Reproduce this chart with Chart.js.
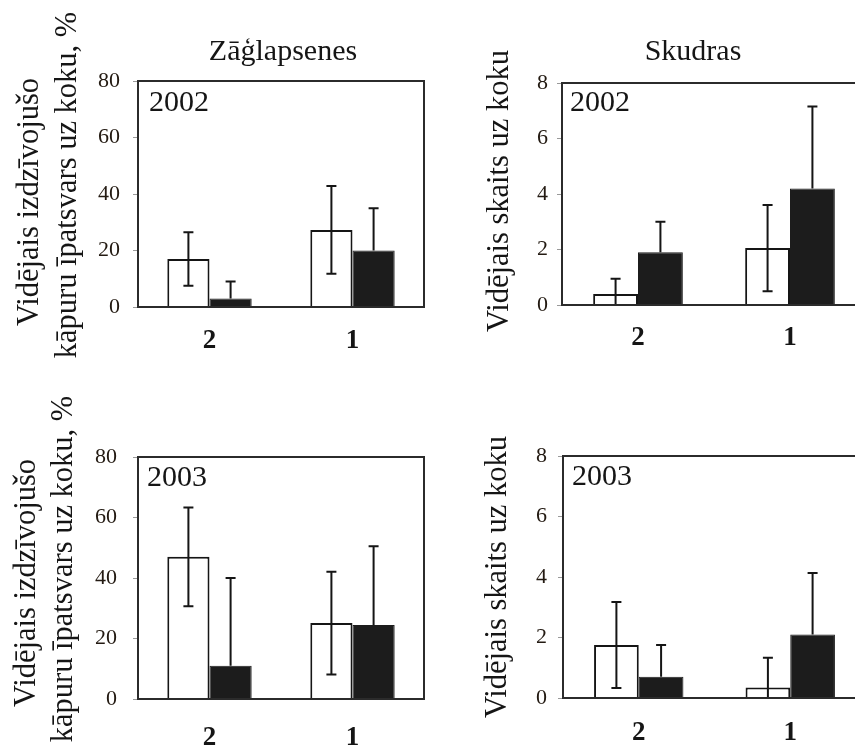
<!DOCTYPE html>
<html>
<head>
<meta charset="utf-8">
<script src="https://cdn.jsdelivr.net/npm/chart.js@4/dist/chart.umd.min.js"></script>
<style>
  html, body { margin: 0; padding: 0; background: #fff; overflow: hidden; width: 855px; height: 746px; }
  .panel { position: absolute; }
</style>
</head>
<body>
<div class="panel" style="left:0;top:0"><canvas id="p1" width="430" height="375"></canvas></div>
<div class="panel" style="left:430px;top:0"><canvas id="p2" width="450" height="375"></canvas></div>
<div class="panel" style="left:0;top:380px"><canvas id="p3" width="430" height="366"></canvas></div>
<div class="panel" style="left:430px;top:380px"><canvas id="p4" width="450" height="366"></canvas></div>
<script>
// Site categories on the x axis
const categories = ['2', '1'];

// Sawflies (Zāģlapsenes): mean share of surviving larvae per tree, %
const sawfly2002Open = [17, 27.3];
const sawfly2002OpenErr = [9.5, 15.5];
const sawfly2002Filled = [3, 20];
const sawfly2002FilledErr = [6, 15];
const sawfly2003Open = [47, 25.1];
const sawfly2003OpenErr = [16.3, 17];
const sawfly2003Filled = [11, 24.5];
const sawfly2003FilledErr = [29, 26];

// Ants (Skudras): mean count per tree
const ant2002Open = [0.4, 2.05];
const ant2002OpenErr = [0.55, 1.55];
const ant2002Filled = [1.9, 4.2];
const ant2002FilledErr = [1.1, 2.95];
const ant2003Open = [1.75, 0.35];
const ant2003OpenErr = [1.42, 0.98];
const ant2003Filled = [0.7, 2.1];
const ant2003FilledErr = [1.05, 2.03];

// Axis ticks
const percentTicks = [0, 20, 40, 60, 80];
const countTicks = [0, 2, 4, 6, 8];

const sawflyYTitle = ['Vidējais izdzīvojušo', 'kāpuru īpatsvars uz koku, %'];
const antYTitle = ['Vidējais skaits uz koku'];

const SERIF = "'Liberation Serif', 'Times New Roman', serif";
const INK = '#151515';

// Vertical error bars drawn from each dataset's `errors` array.
// On filled bars the lower half would vanish into the fill, so only the upper part is stroked.
const errorBars = {
  id: 'errorBars',
  afterDatasetsDraw(chart) {
    const { ctx, chartArea, scales: { y } } = chart;
    const cap = 5;
    ctx.save();
    ctx.beginPath();
    ctx.rect(chartArea.left, chartArea.top, chartArea.width, chartArea.height);
    ctx.clip();
    ctx.strokeStyle = INK;
    ctx.lineWidth = 2;
    chart.data.datasets.forEach((ds, di) => {
      const meta = chart.getDatasetMeta(di);
      meta.data.forEach((bar, i) => {
        const v = ds.data[i], e = ds.errors[i];
        const top = y.getPixelForValue(v + e);
        const bot = ds.upperOnly ? y.getPixelForValue(v) : y.getPixelForValue(v - e);
        ctx.beginPath();
        ctx.moveTo(bar.x, top); ctx.lineTo(bar.x, bot);
        ctx.moveTo(bar.x - cap, top); ctx.lineTo(bar.x + cap, top);
        if (!ds.upperOnly) { ctx.moveTo(bar.x - cap, bot); ctx.lineTo(bar.x + cap, bot); }
        ctx.stroke();
      });
    });
    ctx.restore();
  }
};

// Box around the plotting area
const frame = {
  id: 'frame',
  afterDatasetsDraw(chart) {
    const { ctx, chartArea: a } = chart;
    ctx.save();
    ctx.strokeStyle = '#2b2b2b';
    ctx.lineWidth = 2;
    ctx.strokeRect(a.left, a.top, a.right - a.left, a.bottom - a.top);
    ctx.restore();
  }
};

// Column heading, year label in the box and the rotated y-axis caption
const panelText = {
  id: 'panelText',
  afterDraw(chart, args, o) {
    const { ctx, chartArea: a } = chart;
    const midY = (a.top + a.bottom) / 2;
    ctx.save();
    ctx.fillStyle = INK;
    ctx.textBaseline = 'middle';
    if (o.heading) {
      ctx.font = `30px ${SERIF}`;
      ctx.textAlign = 'center';
      ctx.fillText(o.heading, a.left + o.headingDx, a.top - o.headingDy);
    }
    ctx.font = `30px ${SERIF}`;
    ctx.textAlign = 'left';
    ctx.fillText(o.year, a.left + o.yearDx, a.top + o.yearDy);

    ctx.font = `30.5px ${SERIF}`;
    ctx.textAlign = 'center';
    o.caption.forEach((line, k) => {
      ctx.save();
      ctx.translate(o.captionX[k], midY + o.captionDy[k]);
      ctx.rotate(-Math.PI / 2);
      ctx.fillText(line, 0, 0);
      ctx.restore();
    });
    ctx.restore();
  }
};

function makePanel(id, cfg) {
  const canvas = document.getElementById(id);
  return new Chart(canvas, {
    type: 'bar',
    data: {
      labels: categories,
      datasets: [
        {
          data: cfg.open, errors: cfg.openErr,
          backgroundColor: '#ffffff', borderColor: INK, borderWidth: 2,
          borderSkipped: 'start'
        },
        {
          data: cfg.filled, errors: cfg.filledErr, upperOnly: true,
          backgroundColor: '#1c1c1c', borderColor: '#1c1c1c', borderWidth: 1,
          borderSkipped: 'start'
        }
      ]
    },
    options: {
      responsive: false,
      animation: false,
      devicePixelRatio: 1,
      datasets: { bar: { barPercentage: 1, categoryPercentage: 0.59 } },
      layout: { padding: { top: cfg.top, right: cfg.right, left: 0, bottom: 0 } },
      plugins: {
        legend: { display: false },
        tooltip: { enabled: false },
        panelText: cfg.text
      },
      scales: {
        x: {
          grid: { display: false },
          border: { display: false },
          ticks: { font: { family: SERIF, size: 27, weight: 'bold' }, color: INK, padding: cfg.xPad },
          afterFit: s => { s.height = cfg.xHeight; }
        },
        y: {
          min: cfg.ticks[0], max: cfg.ticks[cfg.ticks.length - 1],
          afterBuildTicks: s => { s.ticks = cfg.ticks.map(v => ({ value: v })); },
          grid: { display: true, drawOnChartArea: false, drawTicks: true, tickLength: 5, color: '#999', lineWidth: 1 },
          border: { display: false },
          ticks: { font: { family: SERIF, size: 22 }, color: '#231a12', padding: cfg.yPad },
          title: { display: false },
          afterFit: s => { s.width = cfg.yWidth; }
        }
      }
    },
    plugins: [errorBars, frame, panelText]
  });
}

makePanel('p1', {
  open: sawfly2002Open, openErr: sawfly2002OpenErr,
  filled: sawfly2002Filled, filledErr: sawfly2002FilledErr,
  ticks: percentTicks,
  top: 81, right: 6, yWidth: 138, xHeight: 68, xPad: 10, yPad: 13,
  text: {
    heading: 'Zāģlapsenes', headingDx: 145, headingDy: 29, year: '2002', yearDx: 11, yearDy: 22,
    caption: sawflyYTitle, captionX: [30, 68], captionDy: [8, -9]
  }
});
makePanel('p2', {
  open: ant2002Open, openErr: ant2002OpenErr,
  filled: ant2002Filled, filledErr: ant2002FilledErr,
  ticks: countTicks,
  top: 83, right: 14, yWidth: 132, xHeight: 70, xPad: 9, yPad: 9,
  text: {
    heading: 'Skudras', headingDx: 131, headingDy: 31, year: '2002', yearDx: 8, yearDy: 20,
    caption: antYTitle, captionX: [70], captionDy: [-3]
  }
});
makePanel('p3', {
  open: sawfly2003Open, openErr: sawfly2003OpenErr,
  filled: sawfly2003Filled, filledErr: sawfly2003FilledErr,
  ticks: percentTicks,
  top: 77, right: 6, yWidth: 138, xHeight: 47, xPad: 15, yPad: 16,
  text: {
    heading: '', year: '2003', yearDx: 9, yearDy: 21,
    caption: sawflyYTitle, captionX: [27, 64], captionDy: [5, -9]
  }
});
makePanel('p4', {
  open: ant2003Open, openErr: ant2003OpenErr,
  filled: ant2003Filled, filledErr: ant2003FilledErr,
  ticks: countTicks,
  top: 76, right: 14, yWidth: 133, xHeight: 48, xPad: 11, yPad: 11,
  text: {
    heading: '', year: '2003', yearDx: 9, yearDy: 21,
    caption: antYTitle, captionX: [68], captionDy: [0]
  }
});
</script>
</body>
</html>
